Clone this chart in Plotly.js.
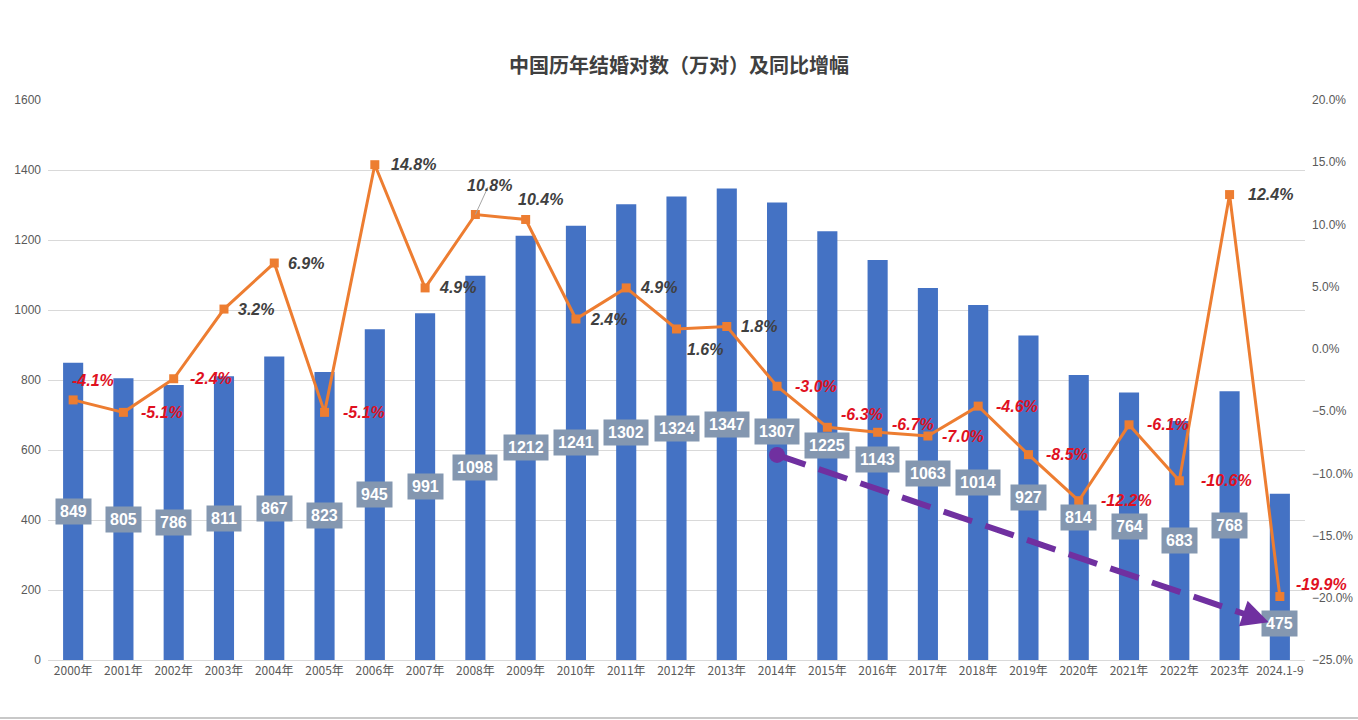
<!DOCTYPE html>
<html><head><meta charset="utf-8">
<script src="https://cdn.plot.ly/plotly-3.0.1.min.js"></script>
<style>html,body{margin:0;padding:0;background:#fff;}#chart{width:1358px;height:720px;}</style>
</head><body><div id="chart"></div>
<script>
const categories = ['2000年','2001年','2002年','2003年','2004年','2005年','2006年','2007年','2008年','2009年','2010年','2011年','2012年','2013年','2014年','2015年','2016年','2017年','2018年','2019年','2020年','2021年','2022年','2023年','2024.1-9'];
const marriages = [849,805,786,811,867,823,945,991,1098,1212,1241,1302,1324,1347,1307,1225,1143,1063,1014,927,814,764,683,768,475];
const growth = [-4.1,-5.1,-2.4,3.2,6.9,-5.1,14.8,4.9,10.8,10.4,2.4,4.9,1.6,1.8,-3.0,-6.3,-6.7,-7.0,-4.6,-8.5,-12.2,-6.1,-10.6,12.4,-19.9];
const trendX = [14, 23.78];
const trendY = [586, 108];

// bar label position as a fraction of bar height
const labelFrac = [0.5,0.5,0.5,0.5,0.5,0.5,0.5,0.5,0.5,0.5,0.5,0.5,0.5,0.5,0.5,0.5,0.5,0.5,0.5,0.5,0.5,0.5,0.5,0.5,0.22];
// label offsets (px) for growth labels
const lblShiftX = [-3,16,14,12,12,16,14,12,-10,-10,12,12,8,12,16,12,12,12,16,16,20,16,20,16,14];
const lblShiftY = [19,0,0,0,0,0,0,0,29,20,0,0,-21,0,0,13,8,0,0,0,0,0,0,0,12];

const fontCN = '"Noto Sans CJK SC", "Microsoft YaHei", sans-serif';
const fontNum = 'Arial, "Liberation Sans", sans-serif';

const annotations = [];
marriages.forEach((v,i)=>{
  annotations.push({
    x: categories[i], y: v*labelFrac[i], xref:'x', yref:'y',
    text: '<b>'+v+'</b>', showarrow:false,
    font:{family:fontNum, size:16, color:'#ffffff'},
    bgcolor:'#8497b0', borderpad:4
  });
});
growth.forEach((g,i)=>{
  annotations.push({
    x: categories[i], y: g, xref:'x', yref:'y2',
    text: '<b><i>'+g.toFixed(1)+'%</i></b>', showarrow:false,
    xanchor:'left', yanchor:'middle',
    xshift: lblShiftX[i], yshift: lblShiftY[i],
    font:{family:fontNum, size:16, color: g<0 ? '#e0111f' : '#404040'}
  });
});
// arrow head at end of trend
annotations.push({
  x: trendX[1], y: trendY[1], xref:'x2', yref:'y',
  ax: trendX[1]-0.45, ay: trendY[1]+22, axref:'x2', ayref:'y',
  showarrow:true, arrowhead:2, arrowsize:0.9, arrowwidth:6, arrowcolor:'#7030a0', text:''
});

const traces = [
  {type:'bar', x:categories, y:marriages, marker:{color:'#4472c4'}, hoverinfo:'skip', yaxis:'y'},
  {type:'scatter', mode:'lines+markers', x:categories, y:growth, yaxis:'y2',
   line:{color:'#ed7d31', width:3}, marker:{symbol:'square', size:9, color:'#ed7d31'}},
  {type:'scatter', mode:'lines', x:[trendX[0], trendX[1]-0.35], y:[trendY[0], trendY[1]+17], xaxis:'x2', yaxis:'y',
   line:{color:'#7030a0', width:6, dash:'30px,14px'}},
  {type:'scatter', mode:'markers', x:[trendX[0]], y:[trendY[0]], xaxis:'x2', yaxis:'y',
   marker:{color:'#7030a0', size:16}}
];

const layout = {
  width:1358, height:720,
  margin:{l:48, r:53, t:100, b:60, autoexpand:false},
  paper_bgcolor:'#ffffff', plot_bgcolor:'#ffffff',
  showlegend:false, bargap:0.6,
  title:{text:'<b>中国历年结婚对数（万对）及同比增幅</b>', x:0.5, xanchor:'center', y:0.908, yanchor:'middle',
         font:{family:fontCN, size:20, color:'#404040'}},
  xaxis:{type:'category', range:[-0.5,24.5], automargin:false, tickfont:{family:fontCN, size:12, color:'#595959'}, showline:true, linecolor:'#d9d9d9', linewidth:1, ticks:'', showgrid:false},
  xaxis2:{overlaying:'x', range:[-0.5,24.5], visible:false, automargin:false},
  yaxis:{range:[0,1600], dtick:200, automargin:false, tickfont:{family:fontNum, size:12, color:'#595959'}, gridcolor:'#d9d9d9', zeroline:false, ticks:'', ticklabelstandoff:6},
  yaxis2:{overlaying:'y', side:'right', range:[-25,20], dtick:5, automargin:false, tickformat:'.1f', ticksuffix:'%', showgrid:false, zeroline:false,
          tickfont:{family:fontNum, size:12, color:'#595959'}, ticklabelstandoff:6},
  annotations: annotations,
  shapes:[
    {type:'line', xref:'paper', yref:'paper', x0:-0.05, x1:1.05, y0:-0.1035, y1:-0.1035, line:{color:'#c8c8c8', width:2}},
    {type:'line', xref:'x', yref:'y2', x0:categories[8], y0:growth[8], x1:8.25, y1:13.0, line:{color:'#a6a6a6', width:1}}
  ]
};
Plotly.newPlot('chart', traces, layout, {staticPlot:true});
</script></body></html>
